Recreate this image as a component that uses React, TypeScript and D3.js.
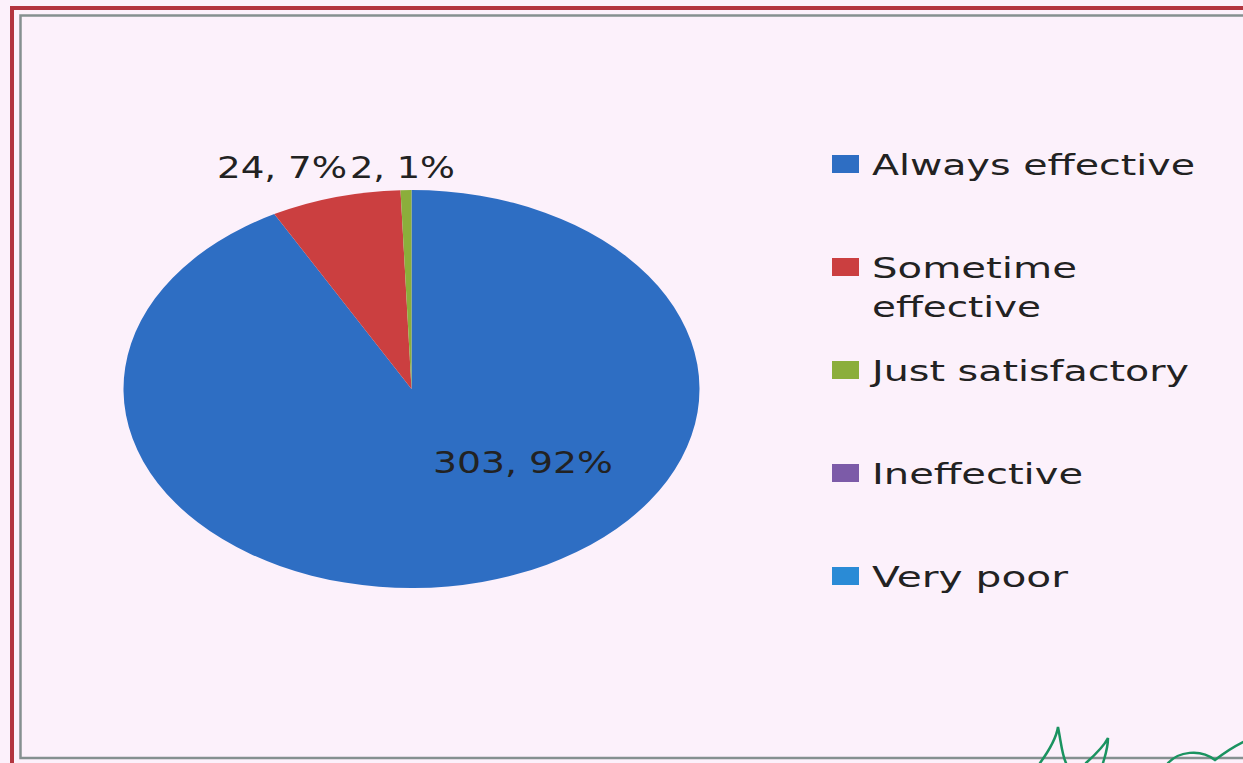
import React from "react";
import * as d3 from "d3";

const categories = ["Always effective", "Sometime effective", "Just satisfactory", "Ineffective", "Very poor"];
const legendLines = [["Always effective"], ["Sometime", "effective"], ["Just satisfactory"], ["Ineffective"], ["Very poor"]];
const counts = [303, 24, 2, 0, 0];
const percentLabels = ["92%", "7%", "1%", "", ""];
const colors = ["#2e6ec3", "#cb3f40", "#8bae3b", "#7c5ba8", "#2a8bd6"];

const W = 1243;
const H = 763;

export default function App() {
  const cx = 411.5;
  const cy = 389;
  const ry = 199;
  const rx = 288;
  const pie = d3.pie<number>().sort(null).value((d) => d)(counts);
  const arc = d3.arc<d3.PieArcDatum<number>>().innerRadius(0).outerRadius(ry);

  const labelPos: Record<number, [number, number, number]> = {
    0: [433, 473, 180],
    1: [217, 178, 130],
    2: [350, 178, 105],
  };

  const legendX = 832;
  const legendTextX = 872;
  const legendTop = 175;
  const legendStep = 103;
  const lineWidths: Record<string, number> = {
    "Always effective": 323,
    "Sometime": 205,
    "effective": 169,
    "Just satisfactory": 317,
    "Ineffective": 211,
    "Very poor": 196,
  };

  return (
    <svg
      width={W}
      height={H}
      style={{ position: "absolute", left: 0, top: 0, display: "block" }}
      fontFamily="'DejaVu Sans', Verdana, sans-serif"
    >
      <rect x={0} y={0} width={W} height={H} fill="#fcf1fb" />
      <rect x={12} y={8} width={W + 20} height={H + 20} fill="none" stroke="#b3343f" strokeWidth={4} />
      <rect x={20.5} y={15.5} width={W} height={742.5} fill="none" stroke="#859090" strokeWidth={2.5} />

      <g transform={`translate(${cx},${cy}) scale(${rx / ry},1)`}>
        {pie.map((p, i) => (
          <path key={categories[i]} d={arc(p) || ""} fill={colors[i]} />
        ))}
      </g>

      {pie.map((p, i) => {
        const pos = labelPos[i];
        if (!pos || counts[i] === 0) return null;
        return (
          <text
            key={"lbl" + i}
            x={pos[0]}
            y={pos[1]}
            fontSize={31}
            fill="#222"
            textLength={pos[2]}
            lengthAdjust="spacingAndGlyphs"
          >
            {`${counts[i]}, ${percentLabels[i]}`}
          </text>
        );
      })}

      {legendLines.map((lines, i) => {
        const base = legendTop + i * legendStep;
        return (
          <g key={"leg" + i}>
            <rect x={legendX} y={base - 20} width={27} height={18} fill={colors[i]} />
            {lines.map((ln, j) => (
              <text
                key={ln}
                x={legendTextX}
                y={base + j * 39}
                fontSize={28}
                fill="#222"
                textLength={lineWidths[ln]}
                lengthAdjust="spacingAndGlyphs"
              >
                {ln}
              </text>
            ))}
          </g>
        );
      })}

      <path
        d="M1040,763 C1048,752 1056,740 1058,727 C1061,742 1062,755 1066,763 M1086,763 C1096,754 1104,746 1108,738 C1108,748 1105,756 1103,763 M1168,763 C1178,752 1200,748 1215,760 C1225,752 1235,746 1243,742"
        fill="none"
        stroke="#1a9360"
        strokeWidth={2.5}
        strokeLinecap="round"
      />
    </svg>
  );
}
